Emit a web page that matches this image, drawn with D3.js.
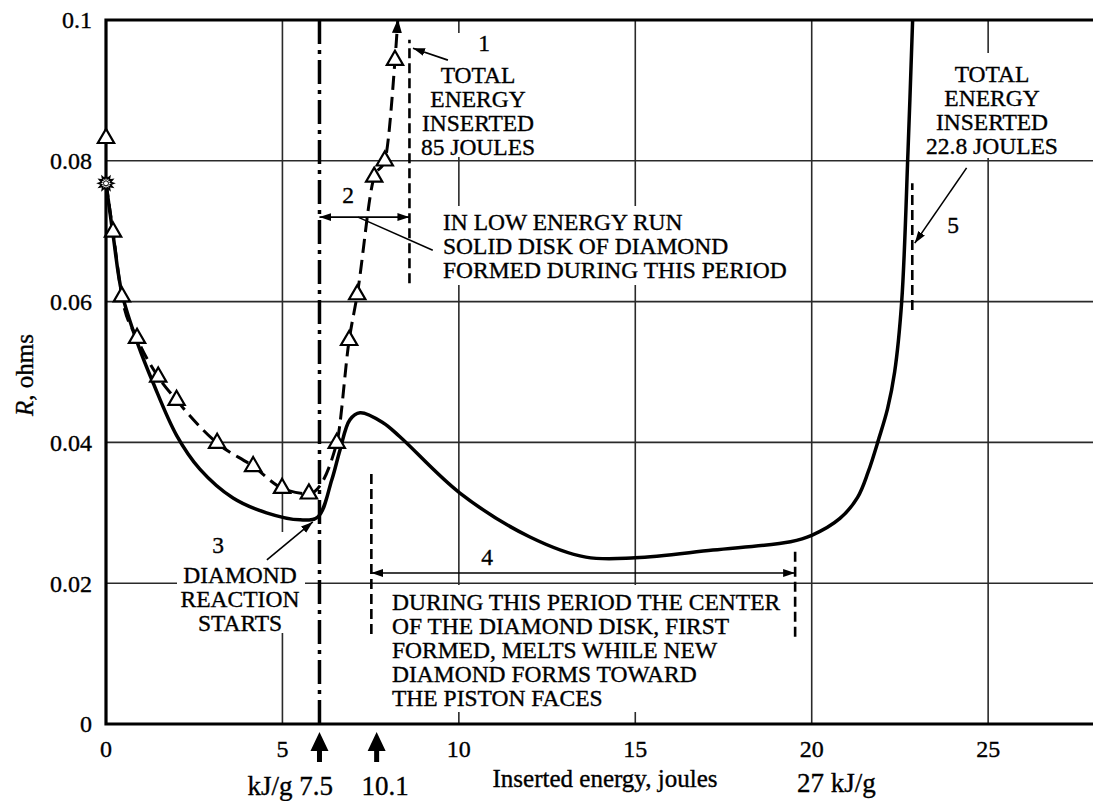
<!DOCTYPE html>
<html>
<head>
<meta charset="utf-8">
<script src="https://cdn.jsdelivr.net/npm/d3@7"></script>
<style>
  body { margin: 0; background: #fff; }
  svg { display: block; }
  text { stroke: #000; stroke-width: 0.35px; }
</style>
</head>
<body>
<div id="chart"></div>
<script>
// high energy run (solid line): inserted energy (J) vs R (ohms)
const solidX = [0, 0.2, 0.45, 0.9, 1.34, 2.0, 2.66, 3.6, 4.55, 5.5, 6.0, 6.4, 6.63, 6.91, 7.2, 7.85, 8.33, 10.03, 12.0, 13.6, 15.0, 17.2, 19.4, 20.0, 20.8, 21.3, 21.6, 21.9, 22.15, 22.35, 22.55, 22.73, 22.86];
const solidR = [0.0768, 0.0695, 0.0612, 0.0540, 0.0484, 0.0410, 0.0362, 0.0321, 0.0300, 0.0290, 0.0294, 0.0347, 0.0389, 0.0432, 0.0442, 0.0428, 0.0408, 0.0328, 0.0266, 0.0237, 0.0236, 0.0247, 0.0259, 0.0268, 0.0292, 0.0322, 0.0358, 0.0405, 0.0448, 0.0500, 0.0600, 0.0815, 0.1];

// low energy run (dashed line with triangles)
const triX = [0, 0.2, 0.45, 0.88, 1.48, 2.0, 3.15, 4.17, 4.99, 5.75, 6.54, 6.89, 7.12, 7.6, 7.9, 8.19];
const triR = [0.0832, 0.0699, 0.0607, 0.0548, 0.0493, 0.046, 0.0399, 0.0366, 0.0335, 0.0327, 0.0399, 0.0545, 0.061, 0.0777, 0.080, 0.0943];
const startPoint = [0, 0.0768];   // common starting point (star)
const dashedEnd = [8.27, 0.1];    // arrow runs off the top

const xTicks = [0, 5, 10, 15, 20, 25];
const yTicks = [0, 0.02, 0.04, 0.06, 0.08, 0.1];
const yTickLabels = ["0", "0.02", "0.04", "0.06", "0.08", "0.1"];

const reactionX = 6.05;          // dash-dot line, diamond reaction starts
const arrowMarks = [6.05, 7.67];  // arrows under the axis
const markerLines = [            // dashed vertical markers [x, r0, r1]
  [8.6, 0.0626, 0.0972],
  [7.52, 0.0128, 0.0355],
  [19.53, 0.0124, 0.0251],
  [22.85, 0.0588, 0.0768]
];

const W = 1093, H = 801;
const x = d3.scaleLinear().domain([0, 28]).range([106, 1094]);
const y = d3.scaleLinear().domain([0, 0.1]).range([724, 20]);

const svg = d3.select("#chart").append("svg").attr("width", W).attr("height", H)
  .attr("font-family", "'Liberation Serif', 'Times New Roman', serif");

const defs = svg.append("defs");
defs.append("marker").attr("id", "ah").attr("markerUnits", "userSpaceOnUse")
  .attr("viewBox", "0 -5 12 10").attr("refX", 12).attr("refY", 0)
  .attr("markerWidth", 12).attr("markerHeight", 10).attr("orient", "auto-start-reverse")
  .append("path").attr("d", "M0,-4L12,0L0,4Z").attr("fill", "#000");
defs.append("marker").attr("id", "ahBig").attr("markerUnits", "userSpaceOnUse")
  .attr("viewBox", "0 -6 14 12").attr("refX", 13).attr("refY", 0)
  .attr("markerWidth", 14).attr("markerHeight", 12).attr("orient", "auto")
  .append("path").attr("d", "M0,-5L14,0L0,5Z").attr("fill", "#000");

// grid
const grid = svg.append("g").attr("stroke", "#2a2a2a").attr("stroke-width", 1.6);
grid.selectAll(".gx").data(xTicks.slice(1)).join("line")
  .attr("x1", d => x(d)).attr("x2", d => x(d)).attr("y1", y(0)).attr("y2", y(0.1));
grid.selectAll(".gy").data(yTicks.slice(1, -1)).join("line")
  .attr("x1", x(0)).attr("x2", W).attr("y1", d => y(d)).attr("y2", d => y(d));

// white patches behind annotation text
const patches = [[423, 33, 112, 124], [438, 206, 355, 79], [177, 532, 128, 101], [388, 585, 402, 127], [925, 53, 135, 105]];
svg.append("g").selectAll("rect").data(patches).join("rect")
  .attr("x", d => d[0]).attr("y", d => d[1]).attr("width", d => d[2]).attr("height", d => d[3])
  .attr("fill", "#fff");

// frame
svg.append("path").attr("d", `M${W},${y(0.1)}H${x(0)}V${y(0)}H${W}`)
  .attr("fill", "none").attr("stroke", "#000").attr("stroke-width", 3.2);

// tick labels
svg.append("g").selectAll("text").data(yTicks).join("text")
  .attr("x", 92).attr("y", d => y(d)).attr("dy", "0.35em").attr("text-anchor", "end")
  .attr("font-size", 24).text((d, i) => yTickLabels[i]);
svg.append("g").selectAll("text").data(xTicks).join("text")
  .attr("x", d => x(d)).attr("y", 757).attr("text-anchor", "middle")
  .attr("font-size", 24).text(d => d);

svg.append("text").attr("x", 605).attr("y", 787).attr("text-anchor", "middle")
  .attr("font-size", 25).text("Inserted energy, joules");
const yt = svg.append("text").attr("transform", "translate(33,375) rotate(-90)")
  .attr("text-anchor", "middle").attr("font-size", 25);
yt.append("tspan").attr("font-style", "italic").text("R");
yt.append("tspan").text(", ohms");

// dash-dot reaction line
svg.append("line").attr("x1", x(reactionX)).attr("x2", x(reactionX))
  .attr("y1", y(0.1)).attr("y2", y(0))
  .attr("stroke", "#000").attr("stroke-width", 3.5).attr("stroke-dasharray", "24,6,4,6");

// dashed markers
svg.append("g").selectAll("line").data(markerLines).join("line")
  .attr("x1", d => x(d[0])).attr("x2", d => x(d[0]))
  .attr("y1", d => y(d[1])).attr("y2", d => y(d[2]))
  .attr("stroke", "#000").attr("stroke-width", 2.6).attr("stroke-dasharray", "10,5");

// solid curve
const line = d3.line().x(d => x(d[0])).y(d => y(d[1])).curve(d3.curveMonotoneX);
const smooth = d3.line().x(d => x(d[0])).y(d => y(d[1])).curve(d3.curveCatmullRom.alpha(0.5));
svg.append("path").datum(solidX.map((v, i) => [v, solidR[i]]))
  .attr("d", smooth).attr("fill", "none").attr("stroke", "#000").attr("stroke-width", 3.5);

// dashed curve
const dashedPts = [startPoint].concat(triX.slice(1).map((v, i) => [v, triR[i + 1]]), [dashedEnd]);
svg.append("path").datum(dashedPts)
  .attr("d", line).attr("fill", "none").attr("stroke", "#000").attr("stroke-width", 3)
  .attr("stroke-dasharray", "14,7").attr("marker-end", "url(#ahBig)");

// triangles
svg.append("g").selectAll("path").data(triX).join("path")
  .attr("transform", (d, i) => `translate(${x(d)},${y(triR[i])})`)
  .attr("d", d3.symbol(d3.symbolTriangle).size(115))
  .attr("fill", "#fff").attr("stroke", "#000").attr("stroke-width", 2.2);

// star at start point
const starPts = d3.range(24).map(i => {
  const a = i * Math.PI / 12, r = i % 2 ? 4.5 : 7.5;
  return [r * Math.sin(a), -r * Math.cos(a)];
});
svg.append("path").attr("transform", `translate(${x(startPoint[0])},${y(startPoint[1])})`)
  .attr("d", "M" + starPts.join("L") + "Z")
  .attr("fill", "#fff").attr("stroke", "#000").attr("stroke-width", 1.6);
svg.append("circle").attr("cx", x(startPoint[0])).attr("cy", y(startPoint[1])).attr("r", 2.5)
  .attr("fill", "#fff").attr("stroke", "#000").attr("stroke-width", 1);

// annotation arrows [x0, r0, x1, r1, heads]
const arrows = [
  [9.69, 0.0943, 8.70, 0.0960, "end"],
  [7.14, 0.0720, 9.26, 0.0673, "none"],
  [reactionX, 0.0720, 8.6, 0.0720, "both"],
  [4.56, 0.0233, 5.86, 0.0287, "end"],
  [7.52, 0.02145, 19.53, 0.02145, "both"],
  [24.39, 0.0790, 22.92, 0.0683, "end"]
];
svg.append("g").selectAll("line").data(arrows).join("line")
  .attr("x1", d => x(d[0])).attr("y1", d => y(d[1])).attr("x2", d => x(d[2])).attr("y2", d => y(d[3]))
  .attr("stroke", "#000").attr("stroke-width", 1.6)
  .attr("marker-end", d => d[4] !== "none" ? "url(#ah)" : null)
  .attr("marker-start", d => d[4] === "both" ? "url(#ah)" : null);

// annotation text
const ann = svg.append("g").attr("font-size", 23.5).attr("fill", "#000");
function block(lines, px, py, anchor) {
  ann.append("text").attr("x", px).attr("y", py).attr("text-anchor", anchor)
    .selectAll("tspan").data(lines).join("tspan")
    .attr("x", px).attr("dy", (d, i) => i ? 24 : 0).text(d => d);
}
block(["1"], 484, 51, "middle");
block(["TOTAL", "ENERGY", "INSERTED", "85 JOULES"], 478, 83, "middle");
block(["2"], 348, 203, "middle");
block(["IN LOW ENERGY RUN", "SOLID DISK OF DIAMOND", "FORMED DURING THIS PERIOD"], 443, 230, "start");
block(["3"], 218, 553, "middle");
block(["DIAMOND", "REACTION", "STARTS"], 240, 583, "middle");
block(["4"], 487, 565, "middle");
block(["DURING THIS PERIOD THE CENTER", "OF THE DIAMOND DISK, FIRST", "FORMED, MELTS WHILE NEW",
  "DIAMOND FORMS TOWARD", "THE PISTON FACES"], 392, 610, "start");
block(["TOTAL", "ENERGY", "INSERTED", "22.8 JOULES"], 992, 82, "middle");
block(["5"], 953, 233, "middle");

// arrows under the x axis
svg.append("g").selectAll("path").data(arrowMarks).join("path")
  .attr("transform", d => `translate(${x(d)},732)`)
  .attr("d", "M0,0L9,19H2.5V30H-2.5V19H-9Z").attr("fill", "#000");

const bl = svg.append("g").attr("font-size", 27);
bl.append("text").attr("x", 333).attr("y", 795).attr("text-anchor", "end").text("kJ/g 7.5");
bl.append("text").attr("x", 385).attr("y", 795).attr("text-anchor", "middle").text("10.1");
bl.append("text").attr("x", 797).attr("y", 792).text("27 kJ/g");
</script>
</body>
</html>
